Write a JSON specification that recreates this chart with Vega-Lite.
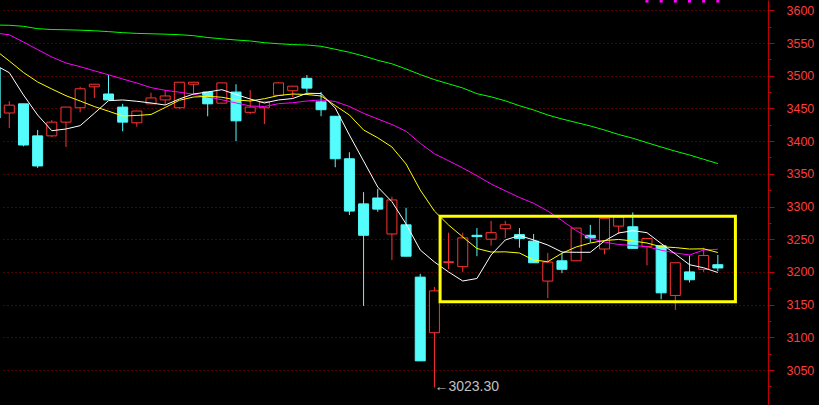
{
  "$schema": "https://vega.github.io/schema/vega-lite/v6.json",
  "width": 768,
  "height": 405,
  "autosize": {"type": "none"},
  "padding": {"left": 0, "top": 0, "right": 51, "bottom": 0},
  "background": "#000000",
  "config": {"view": {"stroke": null}},
  "resolve": {"scale": {"y": "shared", "x": "shared"}, "axis": {"y": "independent"}},
  "datasets": {
    "k": [
      {"i": -1, "o": 3511.8, "h": 3511.8, "l": 3435.3, "c": 3435.3, "ma5": 3516.4, "ma10": 3539.3, "ma20": 3565.3, "ma60": 3577.5},
      {"i": 0, "o": 3443, "h": 3461, "l": 3420, "c": 3455, "ma5": 3504.6, "ma10": 3522.5, "ma20": 3562.5, "ma60": 3577.1},
      {"i": 1, "o": 3457, "h": 3457, "l": 3392, "c": 3394, "ma5": 3470.5, "ma10": 3504.9, "ma20": 3551.5, "ma60": 3575.5},
      {"i": 2, "o": 3408, "h": 3417, "l": 3359, "c": 3362, "ma5": 3439.9, "ma10": 3490.4, "ma20": 3539.9, "ma60": 3571.9},
      {"i": 3, "o": 3408, "h": 3432, "l": 3406, "c": 3429, "ma5": 3415.9, "ma10": 3479.7, "ma20": 3528.6, "ma60": 3570.6},
      {"i": 4, "o": 3429, "h": 3452, "l": 3391, "c": 3452, "ma5": 3418.5, "ma10": 3469.4, "ma20": 3519.4, "ma60": 3570.2},
      {"i": 5, "o": 3451, "h": 3483, "l": 3444, "c": 3480, "ma5": 3423.6, "ma10": 3461.3, "ma20": 3513.8, "ma60": 3569.6},
      {"i": 6, "o": 3483, "h": 3487, "l": 3466, "c": 3487, "ma5": 3442.5, "ma10": 3452.9, "ma20": 3507.5, "ma60": 3568.7},
      {"i": 7, "o": 3472, "h": 3501, "l": 3463, "c": 3463, "ma5": 3461.8, "ma10": 3445.7, "ma20": 3501.5, "ma60": 3567.4},
      {"i": 8, "o": 3452, "h": 3457, "l": 3415, "c": 3429, "ma5": 3462.9, "ma10": 3438.4, "ma20": 3495.0, "ma60": 3565.8},
      {"i": 9, "o": 3428, "h": 3446, "l": 3422, "c": 3446, "ma5": 3460.9, "ma10": 3439.2, "ma20": 3488.8, "ma60": 3564.7},
      {"i": 10, "o": 3457, "h": 3474, "l": 3457, "c": 3466, "ma5": 3458.3, "ma10": 3440.7, "ma20": 3481.8, "ma60": 3564.1},
      {"i": 11, "o": 3463, "h": 3478, "l": 3455, "c": 3469, "ma5": 3455.2, "ma10": 3451.4, "ma20": 3477.7, "ma60": 3563.5},
      {"i": 12, "o": 3451, "h": 3490, "l": 3449, "c": 3490, "ma5": 3464.4, "ma10": 3462.4, "ma20": 3474.8, "ma60": 3562.7},
      {"i": 13, "o": 3487, "h": 3490, "l": 3470, "c": 3490, "ma5": 3472.0, "ma10": 3467.4, "ma20": 3471.6, "ma60": 3561.2},
      {"i": 14, "o": 3475, "h": 3475, "l": 3438, "c": 3457, "ma5": 3475.1, "ma10": 3468.5, "ma20": 3467.4, "ma60": 3558.4},
      {"i": 15, "o": 3458, "h": 3489, "l": 3458, "c": 3489, "ma5": 3478.6, "ma10": 3467.1, "ma20": 3463.3, "ma60": 3556.4},
      {"i": 16, "o": 3475, "h": 3487, "l": 3400, "c": 3431, "ma5": 3471.3, "ma10": 3462.9, "ma20": 3458.3, "ma60": 3554.6},
      {"i": 17, "o": 3444, "h": 3478, "l": 3441, "c": 3452, "ma5": 3464.4, "ma10": 3461.3, "ma20": 3453.7, "ma60": 3553.1},
      {"i": 18, "o": 3451, "h": 3460, "l": 3426, "c": 3460, "ma5": 3458.3, "ma10": 3464.8, "ma20": 3452.9, "ma60": 3550.5},
      {"i": 19, "o": 3470, "h": 3490, "l": 3469, "c": 3489, "ma5": 3462.9, "ma10": 3469.7, "ma20": 3457.2, "ma60": 3548.9},
      {"i": 20, "o": 3477, "h": 3484, "l": 3467, "c": 3484, "ma5": 3465.1, "ma10": 3472.0, "ma20": 3458.7, "ma60": 3547.6},
      {"i": 21, "o": 3496, "h": 3501, "l": 3474, "c": 3481, "ma5": 3473.1, "ma10": 3471.3, "ma20": 3461.3, "ma60": 3546.9},
      {"i": 22, "o": 3460, "h": 3475, "l": 3438, "c": 3448, "ma5": 3472.8, "ma10": 3469.0, "ma20": 3462.9, "ma60": 3545.0},
      {"i": 23, "o": 3438, "h": 3438, "l": 3360, "c": 3373, "ma5": 3450.6, "ma10": 3454.4, "ma20": 3460.6, "ma60": 3540.4},
      {"i": 24, "o": 3373, "h": 3383, "l": 3287, "c": 3293, "ma5": 3409.3, "ma10": 3439.9, "ma20": 3452.9, "ma60": 3535.8},
      {"i": 25, "o": 3304, "h": 3322, "l": 3148, "c": 3256, "ma5": 3369.6, "ma10": 3417.0, "ma20": 3442.5, "ma60": 3530.1},
      {"i": 26, "o": 3313, "h": 3327, "l": 3292, "c": 3296, "ma5": 3329.8, "ma10": 3405.1, "ma20": 3433.8, "ma60": 3523.6},
      {"i": 27, "o": 3258, "h": 3315, "l": 3218, "c": 3310, "ma5": 3307.4, "ma10": 3391.0, "ma20": 3425.4, "ma60": 3518.2},
      {"i": 28, "o": 3272, "h": 3298, "l": 3224, "c": 3224, "ma5": 3273.3, "ma10": 3365.0, "ma20": 3415.1, "ma60": 3510.3},
      {"i": 29, "o": 3192, "h": 3197, "l": 3064, "c": 3064, "ma5": 3233.5, "ma10": 3325.2, "ma20": 3396.6, "ma60": 3501.7},
      {"i": 30, "o": 3107, "h": 3177, "l": 3023.3, "c": 3171, "ma5": 3215.2, "ma10": 3293.1, "ma20": 3380.6, "ma60": 3494.0},
      {"i": 31, "o": 3214.5, "h": 3260, "l": 3204, "c": 3215.5, "ma5": 3199.9, "ma10": 3271.7, "ma20": 3369.9, "ma60": 3487.6},
      {"i": 32, "o": 3208, "h": 3260, "l": 3200, "c": 3252, "ma5": 3186.1, "ma10": 3253.4, "ma20": 3358.9, "ma60": 3481.2},
      {"i": 33, "o": 3256, "h": 3267, "l": 3224, "c": 3254, "ma5": 3189.9, "ma10": 3235.8, "ma20": 3347.1, "ma60": 3472.5},
      {"i": 34, "o": 3250, "h": 3278, "l": 3240, "c": 3260, "ma5": 3225.9, "ma10": 3230.4, "ma20": 3334.4, "ma60": 3467.7},
      {"i": 35, "o": 3266, "h": 3278, "l": 3252, "c": 3272, "ma5": 3248.8, "ma10": 3230.7, "ma20": 3324.0, "ma60": 3461.6},
      {"i": 36, "o": 3257, "h": 3267, "l": 3237, "c": 3251, "ma5": 3255.7, "ma10": 3228.9, "ma20": 3313.8, "ma60": 3454.1},
      {"i": 37, "o": 3247, "h": 3258, "l": 3214, "c": 3214, "ma5": 3248.8, "ma10": 3218.2, "ma20": 3304.9, "ma60": 3447.6},
      {"i": 38, "o": 3186, "h": 3229, "l": 3160, "c": 3215, "ma5": 3241.1, "ma10": 3215.6, "ma20": 3293.1, "ma60": 3439.9},
      {"i": 39, "o": 3217, "h": 3229, "l": 3198, "c": 3204, "ma5": 3230.4, "ma10": 3228.5, "ma20": 3278.6, "ma60": 3433.8},
      {"i": 40, "o": 3217, "h": 3267, "l": 3217, "c": 3267, "ma5": 3230.0, "ma10": 3238.1, "ma20": 3263.2, "ma60": 3428.5},
      {"i": 41, "o": 3256, "h": 3272, "l": 3245, "c": 3252, "ma5": 3230.0, "ma10": 3244.2, "ma20": 3251.4, "ma60": 3423.1},
      {"i": 42, "o": 3235, "h": 3282, "l": 3227, "c": 3282, "ma5": 3247.3, "ma10": 3248.0, "ma20": 3245.7, "ma60": 3417.0},
      {"i": 43, "o": 3270, "h": 3286, "l": 3258, "c": 3284, "ma5": 3259.5, "ma10": 3249.6, "ma20": 3241.9, "ma60": 3410.1},
      {"i": 44, "o": 3269, "h": 3291, "l": 3236, "c": 3236, "ma5": 3263.0, "ma10": 3247.3, "ma20": 3240.5, "ma60": 3404.4},
      {"i": 45, "o": 3239, "h": 3251, "l": 3210, "c": 3251, "ma5": 3260.0, "ma10": 3244.2, "ma20": 3238.5, "ma60": 3397.6},
      {"i": 46, "o": 3240, "h": 3240, "l": 3158, "c": 3168, "ma5": 3243.4, "ma10": 3238.4, "ma20": 3233.2, "ma60": 3391.0},
      {"i": 47, "o": 3164, "h": 3214, "l": 3142, "c": 3214, "ma5": 3227.4, "ma10": 3237.2, "ma20": 3228.9, "ma60": 3384.6},
      {"i": 48, "o": 3200, "h": 3225, "l": 3184, "c": 3188, "ma5": 3211.0, "ma10": 3235.0, "ma20": 3225.9, "ma60": 3378.8},
      {"i": 49, "o": 3204, "h": 3237, "l": 3200, "c": 3225, "ma5": 3206.3, "ma10": 3235.3, "ma20": 3233.5, "ma60": 3372.2},
      {"i": 50, "o": 3211, "h": 3226, "l": 3201, "c": 3206, "ma5": 3199.1, "ma10": 3229.7, "ma20": 3234.6, "ma60": 3365.6}
    ],
    "box": [{"start": 30.4, "end": 51.24, "low": 3154.5, "high": 3285}],
    "note": [{"i": 30, "low": 3023.3, "label": "←3023.30"}],
    "signals": [{"i": 45}, {"i": 46}, {"i": 47}, {"i": 48}, {"i": 49}, {"i": 50}]
  },
  "layer": [
    {
      "data": {"name": "k"},
      "mark": {"type": "rule", "clip": true, "strokeWidth": 1},
      "encoding": {
        "x": {"field": "i", "type": "quantitative", "scale": {"domain": [-0.656, 53.54], "nice": false, "zero": false, "padding": 0}, "axis": null},
        "y": {"field": "l", "type": "quantitative",
          "scale": {"domain": [2996.5, 3615.75], "nice": false, "zero": false, "padding": 0},
          "axis": {
            "orient": "right", "title": null,
            "values": [3050, 3100, 3150, 3200, 3250, 3300, 3350, 3400, 3450, 3500, 3550, 3600],
            "tickCount": 100,
            "format": "d",
            "grid": true, "gridColor": "#a00000", "gridDash": [1, 3], "gridWidth": 1,
            "tickSize": 6, "tickColor": "#c00000", "domainColor": "#c00000",
            "labelColor": "#ff3c3c", "labelFont": "Liberation Sans", "labelFontSize": 12.5,
            "labelPadding": 12, "labelAlign": "left", "labelBaseline": "middle",
            "labelFlush": false, "labelOverlap": false
          }
        },
        "y2": {"field": "h"},
        "color": {"condition": {"test": "datum.c >= datum.o", "value": "#ff3232"}, "value": "#54fcfc"}
      }
    },
    {
      "data": {"name": "k"},
      "mark": {"type": "bar", "clip": true, "size": 10, "strokeWidth": 1},
      "encoding": {
        "x": {"field": "i", "type": "quantitative", "axis": null},
        "y": {"field": "o", "type": "quantitative",
          "axis": {
            "orient": "right", "title": null,
            "values": [3025, 3075, 3125, 3175, 3225, 3275, 3325, 3375, 3425, 3475, 3525, 3575],
            "tickCount": 100,
            "grid": false, "labels": false, "domain": false,
            "tickSize": 3, "tickColor": "#c00000"
          }
        },
        "y2": {"field": "c"},
        "fill": {"condition": {"test": "datum.c >= datum.o", "value": "#000000"}, "value": "#54fcfc"},
        "stroke": {"condition": {"test": "datum.c >= datum.o", "value": "#ff3232"}, "value": "#54fcfc"}
      }
    },
    {
      "data": {"name": "k"},
      "mark": {"type": "line", "clip": true, "strokeWidth": 1, "color": "#00ff00"},
      "encoding": {"x": {"field": "i", "type": "quantitative", "axis": null}, "y": {"field": "ma60", "type": "quantitative", "axis": null}}
    },
    {
      "data": {"name": "k"},
      "mark": {"type": "line", "clip": true, "strokeWidth": 1, "color": "#ff00ff"},
      "encoding": {"x": {"field": "i", "type": "quantitative", "axis": null}, "y": {"field": "ma20", "type": "quantitative", "axis": null}}
    },
    {
      "data": {"name": "k"},
      "mark": {"type": "line", "clip": true, "strokeWidth": 1, "color": "#ffff00"},
      "encoding": {"x": {"field": "i", "type": "quantitative", "axis": null}, "y": {"field": "ma10", "type": "quantitative", "axis": null}}
    },
    {
      "data": {"name": "k"},
      "mark": {"type": "line", "clip": true, "strokeWidth": 1, "color": "#ffffff"},
      "encoding": {"x": {"field": "i", "type": "quantitative", "axis": null}, "y": {"field": "ma5", "type": "quantitative", "axis": null}}
    },
    {
      "data": {"name": "box"},
      "mark": {"type": "rect", "fill": "transparent", "stroke": "#ffff00", "strokeWidth": 3},
      "encoding": {
        "x": {"field": "start", "type": "quantitative", "axis": null},
        "x2": {"field": "end"},
        "y": {"field": "low", "type": "quantitative", "axis": null},
        "y2": {"field": "high"}
      }
    },
    {
      "data": {"name": "signals"},
      "mark": {"type": "square", "filled": true, "size": 9, "color": "#ff00ff", "opacity": 1},
      "encoding": {
        "x": {"field": "i", "type": "quantitative", "axis": null},
        "y": {"datum": 3614, "type": "quantitative", "axis": null}
      }
    },
    {
      "data": {"name": "note"},
      "mark": {"type": "text", "align": "left", "baseline": "middle", "color": "#c0c0c0", "font": "Liberation Sans", "fontSize": 14},
      "encoding": {
        "x": {"field": "i", "type": "quantitative", "axis": null},
        "y": {"field": "low", "type": "quantitative", "axis": null},
        "text": {"field": "label"}
      }
    }
  ]
}
